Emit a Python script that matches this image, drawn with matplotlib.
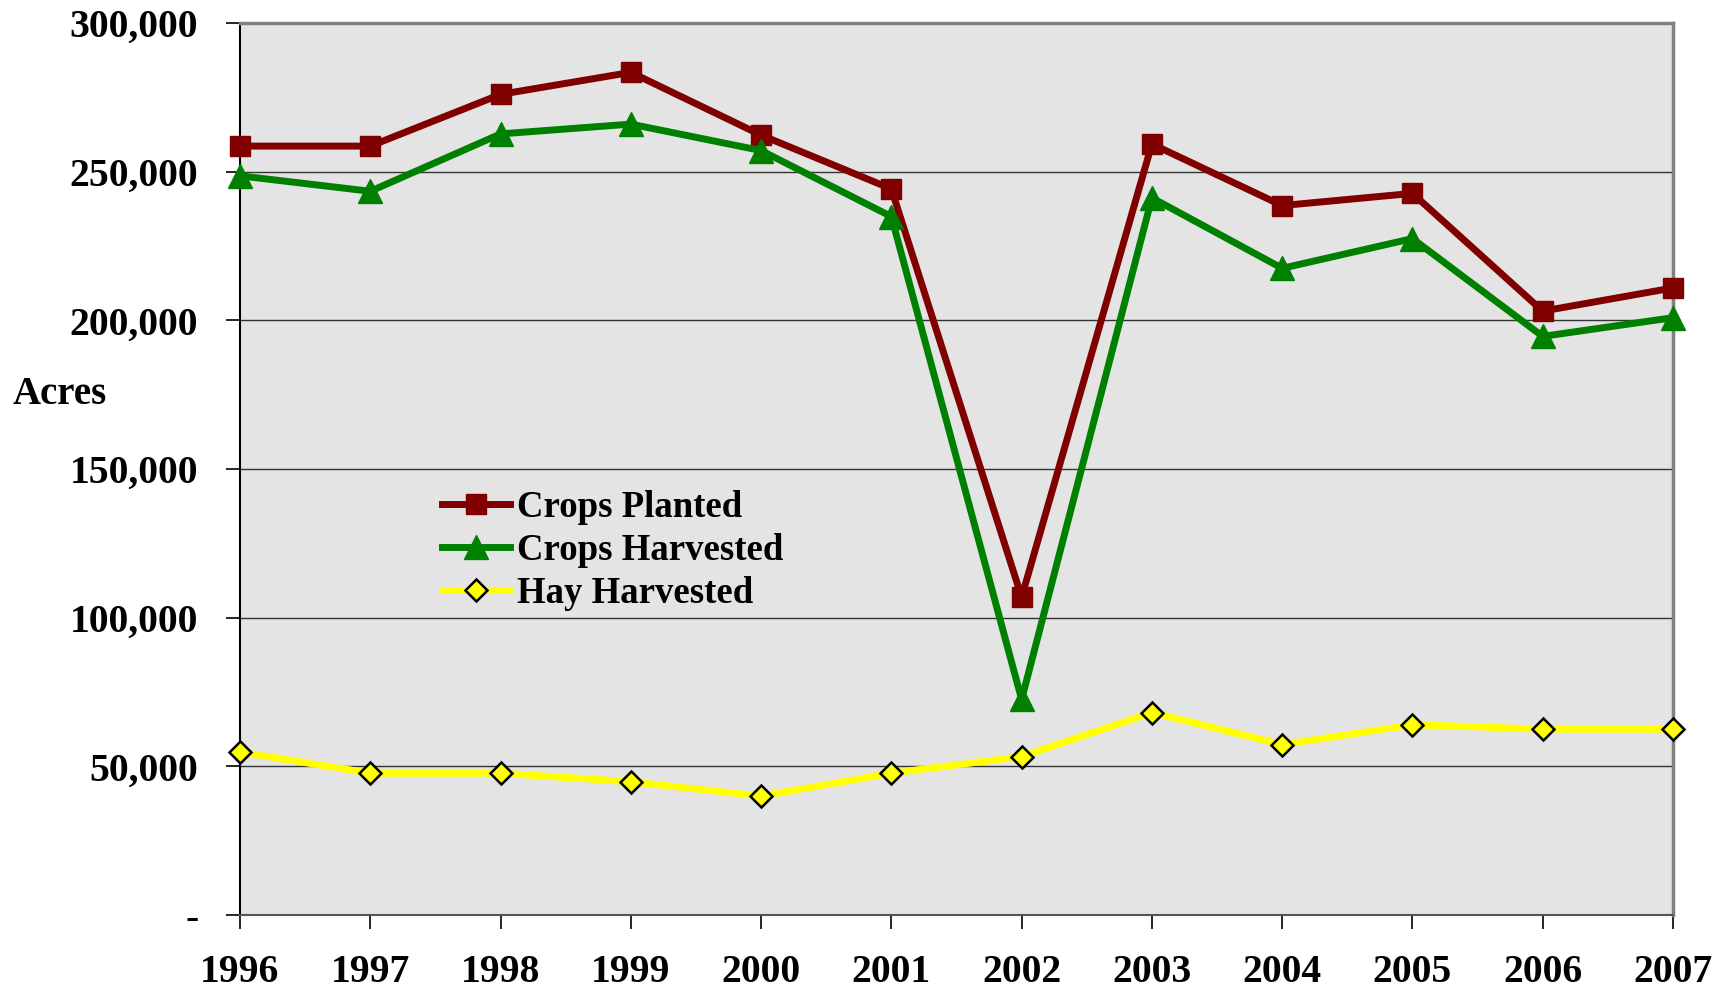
import numpy as np
import matplotlib.pyplot as plt
from matplotlib.ticker import FuncFormatter

years = [1996, 1997, 1998, 1999, 2000, 2001, 2002, 2003, 2004, 2005, 2006, 2007]
crops_planted = [258600, 258600, 276000, 283400, 262300, 244200, 106900,
                 259300, 238600, 242700, 203100, 210900]
crops_harvested = [248600, 243400, 262700, 266000, 257100, 234900, 72500,
                   241200, 217500, 227500, 194600, 200900]
hay_harvested = [54800, 47700, 47700, 44800, 40000, 47700, 53300,
                 68100, 57300, 64000, 62500, 62500]

plt.rcParams['font.family'] = ['Liberation Serif', 'DejaVu Serif']
plt.rcParams['font.weight'] = 'bold'

fig = plt.figure(figsize=(17.24, 9.9), dpi=100)
ax = fig.add_axes([240/1724, 1 - 915/990, 1433/1724, 892/990])
ax.set_facecolor('#e4e4e4')

ax.plot(years, crops_planted, color='#800000', lw=5, marker='s', ms=15,
        label='Crops Planted', clip_on=False, zorder=4)
ax.plot(years, crops_harvested, color='#008000', lw=5, marker='^', ms=17,
        label='Crops Harvested', clip_on=False, zorder=4)
ax.plot(years, hay_harvested, color='#ffff00', lw=5, marker='D', ms=11,
        mfc='#ffff00', mec='black', mew=1.8,
        label='Hay Harvested', clip_on=False, zorder=4)

ax.set_xlim(1996, 2007)
ax.set_ylim(0, 300000)
ax.set_xticks(years)
ax.set_yticks(np.arange(0, 300001, 50000))
ax.yaxis.set_major_formatter(FuncFormatter(
    lambda v, p: '-' if v == 0 else f'{int(v):,}'))
ax.grid(axis='y', color='#333333', lw=1)
ax.set_axisbelow(True)

ax.tick_params(axis='y', labelsize=28.5, length=10, width=1.2, pad=20)
ax.tick_params(axis='x', labelsize=28.5, length=10, width=1.2, pad=18)
for lab in ax.get_xticklabels() + ax.get_yticklabels():
    lab.set_fontweight('bold')

ax.spines['left'].set_color('black')
ax.spines['left'].set_linewidth(1.5)
ax.spines['bottom'].set_color('#555555')
ax.spines['bottom'].set_linewidth(1.5)
ax.spines['right'].set_color('#808080')
ax.spines['right'].set_linewidth(2.5)
ax.spines['top'].set_color('#808080')
ax.spines['top'].set_linewidth(2.5)

fig.text(60/1724, 1 - 394/990, 'Acres', fontsize=28, fontweight='bold',
         ha='center', va='center')

leg = ax.legend(loc='upper left', bbox_to_anchor=(0.128, 0.497), frameon=False,
                prop={'size': 26.5, 'weight': 'bold'}, handlelength=1.85,
                handletextpad=0.2, labelspacing=0.22, borderpad=0)

fig.savefig('out.png', dpi=100)
